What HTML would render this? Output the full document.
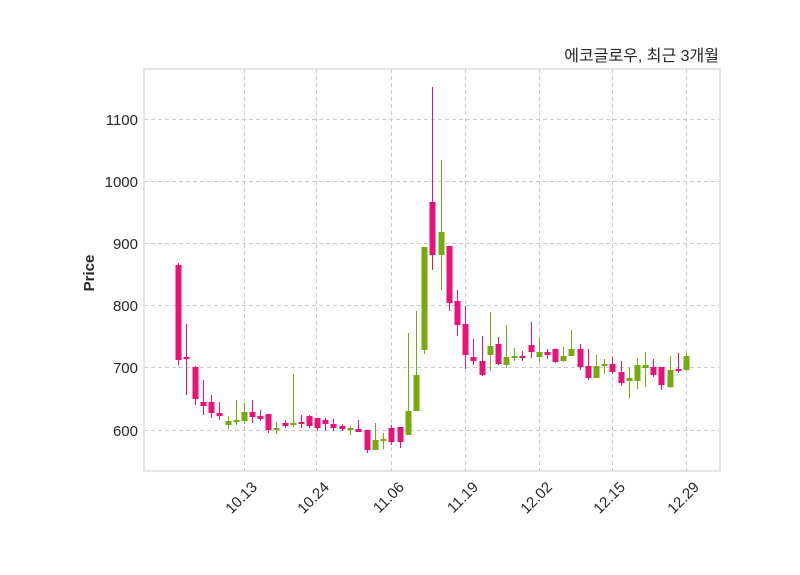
<!DOCTYPE html>
<html><head><meta charset="utf-8"><style>
html,body{margin:0;padding:0;background:#fff;}
svg{display:block;font-family:"Liberation Sans","Noto Sans CJK KR",sans-serif;}
</style></head><body>
<svg id="s" width="800" height="575" viewBox="0 0 800 575" xmlns="http://www.w3.org/2000/svg">
<rect x="0" y="0" width="800" height="575" fill="#fff"/>
<g stroke="#cccccc" stroke-width="1" stroke-dasharray="4,3">
<line x1="144" x2="720" y1="119.5" y2="119.5"/>
<line x1="144" x2="720" y1="181.5" y2="181.5"/>
<line x1="144" x2="720" y1="243.5" y2="243.5"/>
<line x1="144" x2="720" y1="305.5" y2="305.5"/>
<line x1="144" x2="720" y1="367.5" y2="367.5"/>
<line x1="144" x2="720" y1="430.5" y2="430.5"/>
<line y1="69" y2="471" x1="244.5" x2="244.5"/>
<line y1="69" y2="471" x1="316.5" x2="316.5"/>
<line y1="69" y2="471" x1="391.5" x2="391.5"/>
<line y1="69" y2="471" x1="465.5" x2="465.5"/>
<line y1="69" y2="471" x1="539.5" x2="539.5"/>
<line y1="69" y2="471" x1="612.5" x2="612.5"/>
<line y1="69" y2="471" x1="686.5" x2="686.5"/>
</g>
<rect x="144" y="69" width="576" height="402" fill="none" stroke="#dddddd" stroke-width="1.5"/>
<g id="c"></g>
<g font-size="15" fill="#262626" text-anchor="end">
<text x="138" y="125">1100</text>
<text x="138" y="187">1000</text>
<text x="138" y="249">900</text>
<text x="138" y="311">800</text>
<text x="138" y="373">700</text>
<text x="138" y="436">600</text>
</g>
<g font-size="15" fill="#262626" text-anchor="end">
<text transform="translate(258,488) rotate(-45)">10.13</text>
<text transform="translate(330,488) rotate(-45)">10.24</text>
<text transform="translate(405,488) rotate(-45)">11.06</text>
<text transform="translate(479,488) rotate(-45)">11.19</text>
<text transform="translate(553,488) rotate(-45)">12.02</text>
<text transform="translate(626,488) rotate(-45)">12.15</text>
<text transform="translate(700,488) rotate(-45)">12.29</text>
</g>
<text transform="translate(94,273) rotate(-90)" font-size="15" font-weight="bold" fill="#262626" text-anchor="middle">Price</text>
<text x="719" y="61" font-size="16" fill="#262626" text-anchor="end">에코글로우, 최근 3개월</text>
</svg>
<script>
var P="#e8127a",G="#76ab0f";
var d=[
[178,265,360,263,365,P],[186,357,359,324,395,P],[195,367,399,366,405,P],[203,402,406,380,415,P],
[211,402,413,395,418,P],[219,413,416,402,420,P],[228,421,425,416,429,G],[236,420,422,400,425,G],
[244,412,421,403,424,G],[252,412,417,400,423,P],[260,416,419,410,421,P],[268,414,430,414,433,P],
[276,428,430,422,434,G],[285,423,426,420,428,P],[293,423,425,374,427,G],[301,422,424,415,428,P],
[309,416,426,415,428,P],[317,418,428,418,431,P],[325,420,424,418,431,P],[333,424,428,419,431,P],
[342,426,429,424,431,P],[350,428,430,426,435,G],[358,429,432,420,432,P],[367,430,450,430,453,P],
[375,440,450,423,450,G],[383,439,441,433,449,G],[391,428,442,425,445,P],[400,427,442,427,448,P],
[408,411,435,333,435,G],[416,375,411,311,411,G],[424,247,350,247,354,G],[432,202,255,87,270,P],
[441,232,255,160,290,G],[449,246,303,246,311,P],[457,301,325,290,336,P],[465,324,355,306,369,P],
[473,357,361,339,365,P],[482,361,375,336,376,P],[490,346,355,312,371,G],[498,344,364,337,365,P],
[506,357,365,325,368,G],[514,356,358,348,361,G],[522,356,358,351,361,P],[531,345,352,322,358,P],
[539,352,357,338,362,G],[547,352,355,349,359,P],[555,349,362,349,363,P],[563,356,361,347,362,G],
[571,349,356,330,356,G],[580,349,367,344,370,P],[588,366,378,349,380,P],[596,366,378,355,378,G],
[604,364,366,359,374,G],[612,364,372,357,374,P],[621,372,383,361,386,P],[629,378,381,368,398,G],
[637,365,381,358,389,G],[645,365,368,352,387,G],[653,367,375,359,377,P],[661,367,385,367,390,P],
[670,370,387,356,388,G],[678,369,371,353,373,P],[686,356,370,353,371,G]];
var g=document.getElementById("c"),h="";
d.forEach(function(a){var x=a[0];
h+='<line x1="'+(x+0.5)+'" x2="'+(x+0.5)+'" y1="'+a[3]+'" y2="'+a[4]+'" stroke="'+a[5]+'" stroke-width="1"/>';
h+='<rect x="'+(x-2.5)+'" y="'+a[1]+'" width="6" height="'+Math.max(2,a[2]-a[1])+'" fill="'+a[5]+'"/>';});
g.innerHTML=h;
</script>
</body></html>
